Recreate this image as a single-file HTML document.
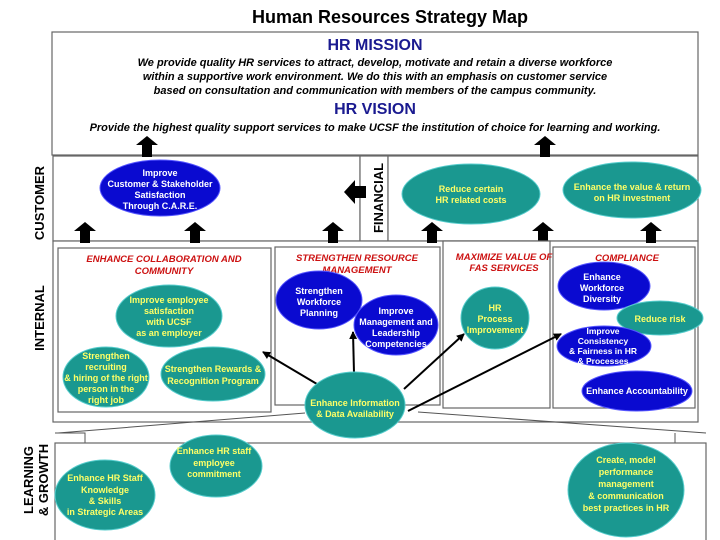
<!DOCTYPE html>
<html><head><meta charset="utf-8"><style>
body{margin:0;background:#fff}
svg{display:block}
text{font-family:"Liberation Sans",Arial,sans-serif;font-weight:bold}
.y{fill:#ffff66;font-size:9px;text-anchor:middle}
.w{fill:#fff;font-size:9px;text-anchor:middle}
.r{fill:#cc1111;font-size:9.5px;font-style:italic;text-anchor:middle}
.t{fill:#1a9890;stroke:#5cc;stroke-width:1}
.b{fill:#0a0ad0;stroke:#55f;stroke-width:1}
.bx{fill:#fff;stroke:#666;stroke-width:1.2}
.lab{fill:#000;font-size:13px;text-anchor:middle}
</style></head><body>
<svg width="720" height="540" viewBox="0 0 720 540">
<defs>
<marker id="ah" markerWidth="8" markerHeight="8" refX="7" refY="4" orient="auto" markerUnits="userSpaceOnUse"><path d="M0,0 L8,4 L0,8 z" fill="#000"/></marker>
<g id="up"><path d="M-5,0 V-12 H-11 L0,-21 L11,-12 H5 V0 z" fill="#000"/></g>
</defs>
<text x="390" y="23" style="font-size:18px" text-anchor="middle">Human Resources Strategy Map</text>
<rect class="bx" x="52" y="32" width="646" height="123"/>
<text x="375" y="50" style="font-size:16px;fill:#1a1a90" text-anchor="middle">HR MISSION</text>
<text x="375" y="66" style="font-size:11px;font-style:italic" text-anchor="middle">We provide quality HR services to attract, develop, motivate and retain a diverse workforce</text>
<text x="375" y="80" style="font-size:11px;font-style:italic" text-anchor="middle">within a supportive work environment. We do this with an emphasis on customer service</text>
<text x="375" y="94" style="font-size:11px;font-style:italic" text-anchor="middle">based on consultation and communication with members of the campus community.</text>
<text x="375" y="114" style="font-size:16px;fill:#1a1a90" text-anchor="middle">HR VISION</text>
<text x="375" y="131" style="font-size:11px;font-style:italic" text-anchor="middle">Provide the highest quality support services to make UCSF the institution of choice for learning and working.</text>

<rect class="bx" x="53" y="156" width="307" height="85"/>
<rect class="bx" x="360" y="156" width="28" height="85"/>
<rect class="bx" x="388" y="156" width="310" height="85"/>
<use href="#up" x="147" y="157"/>
<use href="#up" x="545" y="157"/>
<path d="M366,186 V198 H355 V204 L344,192 L355,180 V186 z" fill="#000"/>
<text class="lab" transform="translate(44,203) rotate(-90)">CUSTOMER</text>
<text class="lab" transform="translate(383,198) rotate(-90)">FINANCIAL</text>

<rect class="bx" x="53" y="241" width="645" height="181"/>
<use href="#up" x="85" y="243"/><use href="#up" x="195" y="243"/><use href="#up" x="333" y="243"/>
<use href="#up" x="432" y="243"/><use href="#up" x="543" y="243"/><use href="#up" x="651" y="243"/>
<rect class="bx" x="58" y="248" width="213" height="164"/>
<rect class="bx" x="275" y="247" width="165" height="158"/>
<rect class="bx" x="443" y="241" width="107" height="167"/>
<rect class="bx" x="553" y="247" width="142" height="161"/>
<text class="lab" transform="translate(44,318) rotate(-90)">INTERNAL</text>

<path d="M55,433 H85 V443 M58,433 L305,413 M418,412 L706,433 M675,433 V443 H706" stroke="#555" fill="none"/>
<rect class="bx" x="55" y="443" width="651" height="100"/>
<text class="lab" transform="translate(33,480) rotate(-90)">LEARNING</text>
<text class="lab" transform="translate(48,480) rotate(-90)">&amp; GROWTH</text>

<text class="r" x="164" y="262">ENHANCE COLLABORATION AND</text>
<text class="r" x="164" y="274">COMMUNITY</text>
<text class="r" x="357" y="261">STRENGTHEN RESOURCE</text>
<text class="r" x="357" y="273">MANAGEMENT</text>
<text class="r" x="504" y="260">MAXIMIZE VALUE OF</text>
<text class="r" x="504" y="271">FAS SERVICES</text>
<text class="r" x="627" y="261">COMPLIANCE</text>

<ellipse class="b" cx="160" cy="188" rx="60" ry="28"/>
<text class="w" x="160" y="176">Improve</text><text class="w" x="160" y="187">Customer &amp; Stakeholder</text><text class="w" x="160" y="198">Satisfaction</text><text class="w" x="160" y="209">Through C.A.R.E.</text>
<ellipse class="t" cx="471" cy="194" rx="69" ry="30"/>
<text class="y" x="471" y="192">Reduce certain</text><text class="y" x="471" y="203">HR related costs</text>
<ellipse class="t" cx="632" cy="190" rx="69" ry="28"/>
<text class="y" x="632" y="190">Enhance the value &amp; return</text><text class="y" x="632" y="201">on HR investment</text>

<ellipse class="t" cx="169" cy="316" rx="53" ry="31"/>
<text class="y" x="169" y="303">Improve employee</text><text class="y" x="169" y="314">satisfaction</text><text class="y" x="169" y="325">with UCSF</text><text class="y" x="169" y="336">as an employer</text>
<ellipse class="t" cx="106" cy="377" rx="43" ry="30"/>
<text class="y" x="106" y="359">Strengthen</text><text class="y" x="106" y="370">recruiting</text><text class="y" x="106" y="381">&amp; hiring of the right</text><text class="y" x="106" y="392">person in the</text><text class="y" x="106" y="403">right job</text>
<ellipse class="t" cx="213" cy="374" rx="52" ry="27"/>
<text class="y" x="213" y="372">Strengthen Rewards &amp;</text><text class="y" x="213" y="384">Recognition Program</text>
<ellipse class="b" cx="319" cy="300" rx="43" ry="29"/>
<text class="w" x="319" y="294">Strengthen</text><text class="w" x="319" y="305">Workforce</text><text class="w" x="319" y="316">Planning</text>
<ellipse class="b" cx="396" cy="325" rx="42" ry="30"/>
<text class="w" x="396" y="314">Improve</text><text class="w" x="396" y="325">Management and</text><text class="w" x="396" y="336">Leadership</text><text class="w" x="396" y="347">Competencies</text>
<ellipse class="t" cx="495" cy="318" rx="34" ry="31"/>
<text class="y" x="495" y="311">HR</text><text class="y" x="495" y="322">Process</text><text class="y" x="495" y="333">Improvement</text>
<ellipse class="b" cx="604" cy="286" rx="46" ry="24"/>
<text class="w" x="602" y="280">Enhance</text><text class="w" x="602" y="291">Workforce</text><text class="w" x="602" y="302">Diversity</text>
<ellipse class="t" cx="660" cy="318" rx="43" ry="17"/>
<text class="y" x="660" y="322">Reduce risk</text>
<ellipse class="b" cx="604" cy="346" rx="47" ry="20"/>
<text class="w" x="603" y="334" style="font-size:8.5px">Improve</text><text class="w" x="603" y="344" style="font-size:8.5px">Consistency</text><text class="w" x="603" y="354" style="font-size:8.5px">&amp; Fairness in HR</text><text class="w" x="603" y="364" style="font-size:8.5px">&amp; Processes</text>
<ellipse class="b" cx="637" cy="391" rx="55" ry="20"/>
<text class="w" x="637" y="394">Enhance Accountability</text>

<g stroke="#000" stroke-width="2" fill="none" marker-end="url(#ah)">
<line x1="322" y1="387" x2="263" y2="352"/>
<line x1="354" y1="373" x2="353" y2="332"/>
<line x1="404" y1="389" x2="464" y2="334"/>
<line x1="408" y1="411" x2="561" y2="334"/>
</g>
<ellipse class="t" cx="355" cy="405" rx="50" ry="33"/>
<text class="y" x="355" y="406">Enhance Information</text><text class="y" x="355" y="417">&amp; Data Availability</text>

<ellipse class="t" cx="105" cy="495" rx="50" ry="35"/>
<text class="y" x="105" y="481">Enhance HR Staff</text><text class="y" x="105" y="493">Knowledge</text><text class="y" x="105" y="504">&amp; Skills</text><text class="y" x="105" y="515">in Strategic Areas</text>
<ellipse class="t" cx="216" cy="466" rx="46" ry="31"/>
<text class="y" x="214" y="454">Enhance HR staff</text><text class="y" x="214" y="466">employee</text><text class="y" x="214" y="477">commitment</text>
<ellipse class="t" cx="626" cy="490" rx="58" ry="47"/>
<text class="y" x="626" y="463">Create, model</text><text class="y" x="626" y="475">performance</text><text class="y" x="626" y="487">management</text><text class="y" x="626" y="499">&amp; communication</text><text class="y" x="626" y="511">best practices in HR</text>
</svg>
</body></html>
